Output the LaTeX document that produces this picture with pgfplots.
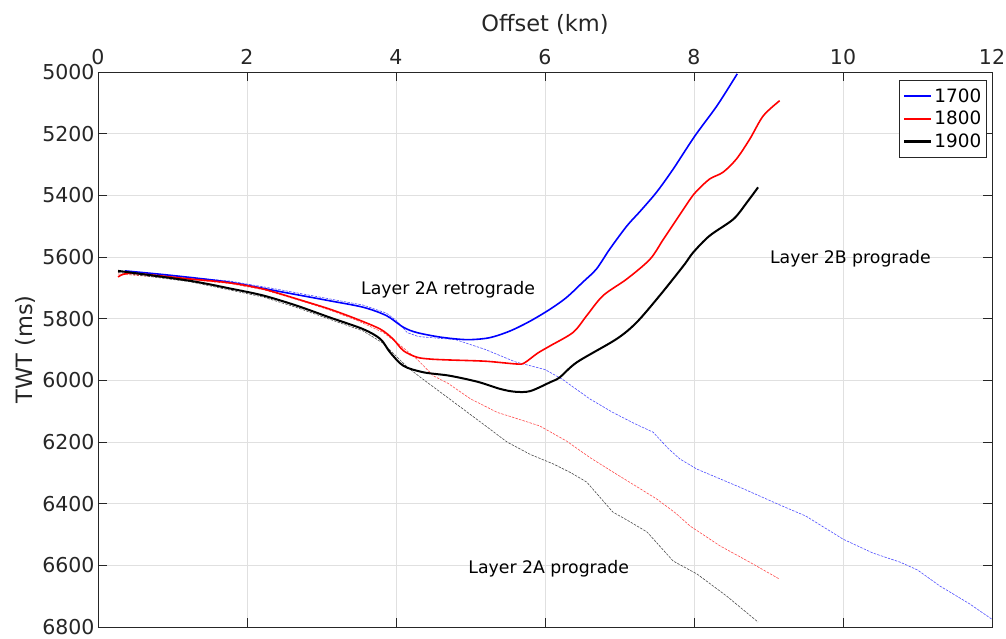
\documentclass[border=0pt]{standalone}
\usepackage{pgfplots}
\pgfplotsset{compat=1.18}
\usetikzlibrary{calc}
\usepackage{fontspec}
\setmainfont{DejaVu Sans}
\definecolor{axgray}{gray}{0.15}
\definecolor{gridgray}{gray}{0.88}
\begin{document}
\begin{tikzpicture}
\begin{axis}[
  name=ax,
  at={(0,0)}, anchor=south west,
  width=894pt, height=555pt, scale only axis,
  xmin=0, xmax=12, ymin=5000, ymax=6800,
  y dir=reverse,
  xtick={0,2,...,12}, ytick={5000,5200,...,6800},
  xticklabel pos=upper,
  xlabel={Offset (km)}, ylabel={TWT (ms)},
  xlabel style={font=\fontsize{22.5}{26}\selectfont, color=axgray, yshift=8pt},
  ylabel style={font=\fontsize{22.5}{26}\selectfont, color=axgray},
  ticklabel style={font=\fontsize{20.5}{24}\selectfont, color=axgray},
  xticklabel style={yshift=4pt},
  /pgf/number format/assume math mode=true,
  /pgf/number format/1000 sep={},
  grid=major,
  major grid style={gridgray, line width=0.8pt},
  axis line style={axgray, line width=0.9pt},
  tick style={axgray, line width=0.9pt},
  tick align=inside,
  major tick length=9pt,
  legend style={at={(0.994,0.986)}, anchor=north east, font=\fontsize{18.4}{22}\selectfont, inner xsep=3pt, inner ysep=6.5pt, row sep=3.5pt, draw=axgray, line width=0.8pt},
  legend cell align=left,
  clip=false,
]
\addlegendimage{empty legend}
\addlegendentry{\textcolor{blue}{\rule[0.28em]{27pt}{2pt}}\hspace{3pt}1700}
\addlegendimage{empty legend}
\addlegendentry{\textcolor{red}{\rule[0.28em]{27pt}{2pt}}\hspace{3pt}1800}
\addlegendimage{empty legend}
\addlegendentry{\textcolor{black}{\rule[0.26em]{27pt}{2.4pt}}\hspace{3pt}1900}
% dashed
\addplot[blue!70!white, line width=0.6pt, dash pattern=on 2.5pt off 1.2pt, forget plot] coordinates {
(0.3,5648)(1,5662)(1.77,5678)(2.44,5706)(3.11,5736)(3.56,5756)(3.87,5782)(4.0,5805)(4.15,5845)(4.3,5858)(4.5,5862)(4.8,5868)(5.2,5900)(5.6,5940)(6.0,5965)(6.23,5996)(6.6,6060)(6.91,6104)(7.2,6140)(7.45,6168)(7.65,6220)(7.81,6255)(8.04,6288)(8.6,6345)(9.15,6404)(9.5,6440)(10.0,6515)(10.4,6560)(10.77,6590)(11.0,6615)(11.3,6667)(11.7,6725)(12.0,6775)};
\addplot[red!70!white, line width=0.6pt, dash pattern=on 2.5pt off 1.2pt, forget plot] coordinates {
(0.27,5655)(1.23,5673)(1.77,5686)(2.22,5706)(2.67,5738)(3.11,5772)(3.47,5805)(3.83,5845)(4.05,5885)(4.28,5931)(4.5,5985)(4.7,6010)(5.0,6060)(5.36,6104)(5.7,6130)(5.93,6148)(6.29,6197)(6.6,6250)(6.91,6297)(7.2,6340)(7.5,6385)(7.75,6430)(7.95,6473)(8.35,6537)(8.75,6590)(9.15,6645)};
\addplot[black!70!white, line width=0.6pt, dash pattern=on 2.5pt off 1.2pt, forget plot] coordinates {
(0.27,5650)(1.23,5680)(1.77,5707)(2.22,5730)(2.67,5764)(3.11,5802)(3.56,5840)(3.83,5880)(4.15,5957)(4.36,5996)(4.8,6075)(5.26,6158)(5.49,6200)(5.8,6240)(6.11,6271)(6.35,6300)(6.56,6330)(6.91,6427)(7.15,6460)(7.37,6492)(7.72,6586)(8.04,6628)(8.44,6700)(8.86,6784)};
% solid
\addplot[blue, line width=1.6pt, smooth, forget plot] coordinates {
(0.36,5645)(1,5660)(1.77,5682)(2.44,5712)(3.11,5742)(3.56,5763)(3.87,5790)(4.1,5828)(4.28,5845)(4.6,5860)(4.95,5868)(5.25,5862)(5.53,5840)(5.8,5808)(6.07,5769)(6.29,5731)(6.51,5681)(6.69,5639)(6.87,5574)(7.1,5499)(7.28,5451)(7.5,5389)(7.72,5315)(8.01,5208)(8.31,5109)(8.58,5006)};
\addplot[red, line width=1.6pt, smooth, forget plot] coordinates {
(0.27,5665)(0.45,5653)(1.23,5671)(1.77,5684)(2.22,5704)(2.67,5736)(3.11,5769)(3.47,5801)(3.79,5834)(3.96,5866)(4.1,5904)(4.28,5925)(4.46,5931)(4.72,5934)(5.2,5938)(5.62,5947)(5.72,5944)(5.9,5912)(6.07,5888)(6.38,5844)(6.56,5790)(6.78,5725)(7.1,5671)(7.41,5607)(7.59,5542)(7.77,5477)(7.95,5412)(8.04,5385)(8.21,5347)(8.39,5325)(8.57,5282)(8.75,5217)(8.93,5142)(9.15,5093)};
\addplot[black, line width=2pt, smooth, forget plot] coordinates {
(0.27,5645)(1.23,5677)(1.77,5702)(2.22,5725)(2.67,5758)(3.11,5796)(3.56,5834)(3.79,5866)(3.92,5909)(4.1,5953)(4.37,5974)(4.72,5985)(5.1,6005)(5.4,6028)(5.6,6037)(5.8,6035)(6.07,6006)(6.2,5990)(6.43,5941)(6.96,5866)(7.23,5812)(7.54,5725)(7.86,5628)(7.99,5585)(8.21,5531)(8.53,5477)(8.71,5423)(8.86,5374)};
\node[font=\fontsize{17.3}{20}\selectfont] at (axis cs:4.7,5705) {Layer 2A retrograde};
\node[font=\fontsize{17.3}{20}\selectfont] at (axis cs:10.1,5607) {Layer 2B prograde};
\node[font=\fontsize{17.3}{20}\selectfont] at (axis cs:6.05,6610) {Layer 2A prograde};
\end{axis}
\pgfresetboundingbox
\path[use as bounding box] ($(ax.south west)+(-98pt,-11pt)$) rectangle ($(ax.north east)+(14pt,72pt)$);
\end{tikzpicture}
\end{document}
